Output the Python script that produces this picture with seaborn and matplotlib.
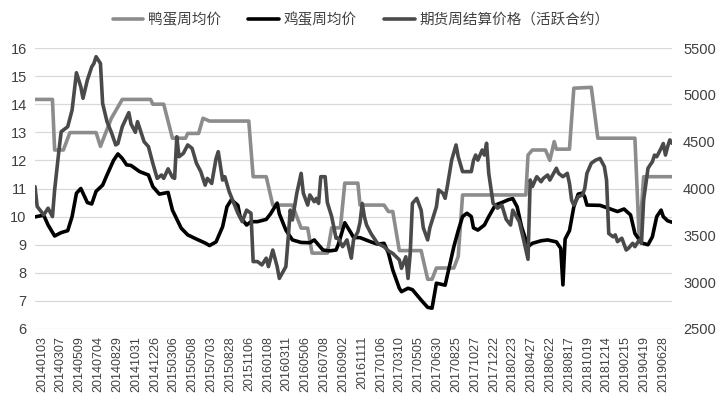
import matplotlib
matplotlib.use("Agg")
import matplotlib.pyplot as plt
import seaborn as sns
import numpy as np

tick_labels = ["20140103", "20140307", "20140509", "20140704", "20140829", "20141031",
               "20141226", "20150306", "20150508", "20150703", "20150828", "20151106",
               "20160108", "20160311", "20160506", "20160708", "20160902", "20161111",
               "20170106", "20170310", "20170505", "20170630", "20170825", "20171027",
               "20171222", "20180223", "20180427", "20180622", "20180817", "20181019",
               "20181214", "20190215", "20190419", "20190628"]

series_names = ["鸭蛋周均价", "鸡蛋周均价", "期货周结算价格（活跃合约）"]

duck_w = [0, 8, 9, 13, 16, 28, 30, 32, 35, 38, 40, 53, 54, 59, 63, 69, 70, 75, 77, 80,
          98, 100, 106, 109, 118, 122, 125, 127, 134, 136, 140, 142, 148, 149, 160, 162,
          164, 167, 177, 180, 182, 184, 192, 194, 196, 225, 226, 228, 234, 236, 238, 239,
          245, 247, 255, 258, 275, 277, 279, 292]
duck_v = [14.17, 14.17, 12.37, 12.37, 12.99, 12.99, 12.5, 12.9, 13.5, 13.9, 14.17, 14.17,
          14.0, 14.0, 12.79, 12.79, 12.96, 12.96, 13.5, 13.4, 13.4, 11.42, 11.42, 10.41,
          10.41, 9.59, 9.59, 8.7, 8.7, 9.6, 9.6, 11.19, 11.19, 10.41, 10.41, 10.18, 10.18,
          8.79, 8.79, 7.77, 7.77, 8.17, 8.17, 8.58, 10.77, 10.77, 12.19, 12.37, 12.37, 12.0,
          12.67, 12.4, 12.4, 14.57, 14.6, 12.79, 12.79, 9.17, 11.42, 11.42]

egg_w = [0, 4, 6, 9, 12, 15, 17, 19, 21, 24, 26, 28, 31, 33, 36, 38, 40, 42, 44, 48,
         52, 54, 57, 61, 63, 67, 70, 74, 78, 80, 83, 86, 88, 90, 93, 94, 97, 99, 102, 106,
         108, 111, 112, 115, 118, 122, 126, 128, 132, 135, 138, 139, 142, 145, 146, 149,
         154, 157, 160, 162, 164, 167, 168, 171, 173, 177, 180, 182, 184, 188, 189, 192,
         194, 196, 198, 200, 201, 203, 206, 208, 211, 214, 217, 219, 221, 223, 226, 228,
         232, 235, 239, 241, 242, 243, 245, 247, 249, 251, 252, 253, 259, 262, 267, 270,
         273, 275, 278, 281, 283, 285, 287, 288, 290, 292]
egg_v = [9.99, 10.05, 9.7, 9.31, 9.43, 9.5, 10.0, 10.83, 11.0, 10.5, 10.45, 10.9, 11.12,
         11.48, 12.0, 12.23, 12.07, 11.84, 11.82, 11.6, 11.48, 11.07, 10.8, 10.86, 10.23,
         9.59, 9.35, 9.2, 9.06, 8.97, 9.1, 9.64, 10.35, 10.6, 10.4, 10.0, 9.7, 9.82, 9.82,
         9.9, 10.1, 10.48, 10.1, 9.52, 9.17, 9.08, 9.07, 9.17, 8.81, 8.78, 8.81, 9.0, 9.78,
         9.4, 9.26, 9.25, 9.1, 9.02, 9.05, 8.7, 8.1, 7.45, 7.33, 7.45, 7.4, 7.03, 6.77,
         6.74, 7.63, 7.56, 7.9, 8.93, 9.5, 10.0, 10.12, 10.0, 9.6, 9.52, 9.7, 10.0, 10.41,
         10.5, 10.6, 10.64, 10.35, 9.65, 8.93, 9.05, 9.14, 9.17, 9.1, 8.87, 7.57, 9.2, 9.5,
         10.35, 10.8, 10.84, 10.7, 10.41, 10.4, 10.32, 10.18, 10.27, 10.06, 9.4, 9.06, 9.0,
         9.28, 10.0, 10.23, 10.0, 9.85, 9.8]

fut_w = [0, 1, 4, 6, 8, 9, 11, 12, 15, 17, 19, 21, 22, 24, 26, 27, 28, 30, 31, 33,
         35, 37, 38, 40, 43, 44, 46, 47, 49, 50, 52, 54, 56, 58, 59, 61, 63, 64, 65, 66,
         68, 70, 72, 74, 76, 78, 79, 81, 83, 84, 86, 87, 89, 91, 93, 95, 97, 99, 100, 102,
         104, 106, 107, 109, 111, 112, 115, 116, 117, 118, 120, 122, 123, 125, 126, 128, 129, 130, 131, 133,
         134, 136, 138, 139, 141, 143, 145, 146, 148, 149, 150, 151, 152, 154, 155, 157, 160, 162, 164, 167,
         168, 170, 171, 172, 173, 175, 177, 178, 180, 181, 184, 185, 187, 188, 189, 191, 193, 194, 196, 197,
         200, 201, 202, 203, 205, 206, 207, 208, 210, 211, 212, 214, 216, 218, 219, 222, 224, 226, 227, 228,
         230, 232, 233, 235, 236, 239, 240, 242, 244, 245, 246, 247, 249, 251, 252, 253, 255, 257, 259, 261,
         262, 263, 265, 266, 267, 269, 271, 272, 274, 275, 277, 278, 279, 281, 282, 283, 284, 285, 287, 288,
         289, 290, 291, 292]
fut_v = [4020, 3808, 3718, 3790, 3700, 3985, 4411, 4606, 4660, 4837, 5236, 5086, 4963, 5158, 5299, 5335, 5407, 5335, 4909, 4714,
         4600, 4465, 4480, 4660, 4810, 4690, 4600, 4714, 4570, 4500, 4447, 4270, 4108, 4144, 4108, 4210, 4120, 4108, 4552, 4339,
         4375, 4465, 4429, 4270, 4180, 4036, 4108, 4054, 4321, 4393, 4090, 4126, 3967, 3850, 3736, 3646, 3769, 3736, 3220, 3220,
         3184, 3256, 3166, 3343, 3166, 3040, 3166, 3451, 3769, 3664, 3949, 4162, 3950, 3823, 3931, 3859, 3895, 3841, 4126, 4126,
         3850, 3700, 3469, 3469, 3379, 3451, 3256, 3451, 3538, 3640, 3841, 3697, 3610, 3520, 3484, 3415, 3379, 3334, 3307, 3238,
         3148, 3271, 3040, 3307, 3841, 3895, 3769, 3580, 3451, 3580, 3805, 3985, 3949, 3895, 4021, 4303, 4465, 4339, 4180, 4180,
         4180, 4300, 4357, 4303, 4411, 4357, 4483, 4162, 3841, 3823, 3790, 3823, 3670, 3610, 3769, 3646, 3451, 3244, 4091, 4021,
         4126, 4072, 4108, 4144, 4090, 4216, 4162, 4126, 4162, 4054, 3874, 3823, 3913, 3931, 4000, 4162, 4270, 4303, 4321, 4234,
         4090, 3520, 3484, 3505, 3433, 3469, 3343, 3361, 3415, 3379, 3451, 3415, 3877, 4216, 4252, 4285, 4357, 4339, 4429, 4480,
         4357, 4447, 4519, 4483]

left_ticks = list(range(6, 17))
right_ticks = list(range(2500, 5501, 500))

sns.set_style("white")
plt.rcParams['font.family'] = ['Noto Sans CJK SC', 'DejaVu Sans']

W, H = 722, 404
fig = plt.figure(figsize=(W / 100, H / 100), dpi=100)
ax = fig.add_axes([35 / W, 75 / H, 637 / W, 281 / H])
ax2 = ax.twinx()

c_duck, c_egg, c_fut = "#8c8c8c", "#000000", "#4a4a4a"
lw = 2.6
kw = dict(lw=lw, estimator=None, sort=False, legend=False,
          solid_joinstyle='round', solid_capstyle='round')

sns.lineplot(x=duck_w, y=duck_v, ax=ax, color=c_duck, label=series_names[0], **kw)
sns.lineplot(x=egg_w, y=egg_v, ax=ax, color=c_egg, label=series_names[1], **kw)
sns.lineplot(x=fut_w, y=fut_v, ax=ax2, color=c_fut, label=series_names[2], **kw)

ax.set_xlim(0, 292)
ax.set_ylim(6, 16)
ax2.set_ylim(2500, 5500)
ax.set_yticks(left_ticks)
ax2.set_yticks(right_ticks)
ax.grid(axis='y', color='#d9d9d9', lw=0.9)
ax.set_axisbelow(True)
for a in (ax, ax2):
    for s in a.spines.values():
        s.set_visible(False)
    a.set_xlabel("")
    a.set_ylabel("")

tick_pos = np.linspace(3.2, 288, len(tick_labels))
ax.set_xticks(tick_pos)
ax.set_xticklabels(tick_labels, rotation=90, fontsize=9, color='#404040',
                   family=['Liberation Sans', 'DejaVu Sans'])
ax.tick_params(axis='x', length=0, pad=5)
ax.tick_params(axis='y', length=0, pad=6, labelsize=10.5, labelcolor='#404040')
ax2.tick_params(axis='y', length=0, pad=8, labelsize=10.5, labelcolor='#404040')
for lab in ax.get_yticklabels() + ax2.get_yticklabels():
    lab.set_family(['Liberation Sans', 'DejaVu Sans'])

h1, l1 = ax.get_legend_handles_labels()
h2, l2 = ax2.get_legend_handles_labels()
fig.legend(h1 + h2, l1 + l2, loc='upper center', bbox_to_anchor=(0.5, 1.0), ncol=3,
           frameon=False, fontsize=10.5, handlelength=2.1, handletextpad=0.3,
           columnspacing=1.9, labelcolor='#404040')

fig.savefig("out.png", dpi=100)
